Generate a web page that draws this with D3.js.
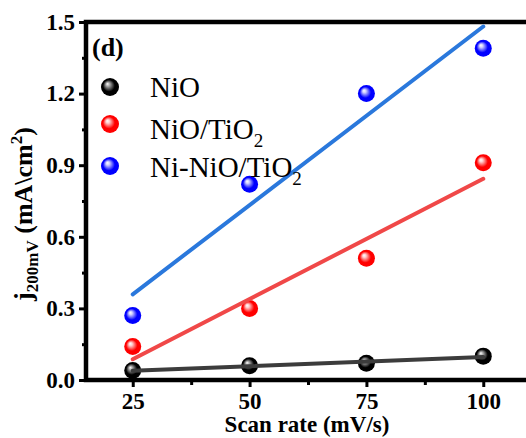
<!DOCTYPE html>
<html>
<head>
<meta charset="utf-8">
<script src="https://cdn.jsdelivr.net/npm/d3@7"></script>
<style>
  html, body { margin: 0; padding: 0; background: #fff; }
  svg { display: block; }
</style>
</head>
<body>
<svg id="chart" width="526" height="438"></svg>
<script>
// Scan rate (mV/s) and current density at 200 mV (mA/cm2)
const scanRates = [25, 50, 75, 100];
const nioValues = [0.04, 0.06, 0.07, 0.10];
const nioTiO2Values = [0.14, 0.30, 0.51, 0.91];
const niNioTiO2Values = [0.27, 0.82, 1.20, 1.39];
const xTicks = [25, 50, 75, 100];
const yTicks = [0.0, 0.3, 0.6, 0.9, 1.2, 1.5];

const seriesNames = ["NiO", "NiO/TiO2", "Ni-NiO/TiO2"];
const seriesValues = [nioValues, nioTiO2Values, niNioTiO2Values];
const markerColors = ["#000000", "#ff0000", "#0000ff"];
const highlightColors = ["#b0b0b0", "#ffd0d0", "#d0d0ff"];
const lineColors = ["#3c3c3c", "#f04848", "#2a78dc"];

const svg = d3.select("#chart");
const mLeft = 86, mTop = 22, mBottom = 380, mRight = 530;

const x = d3.scaleLinear().domain([15, 110]).range([mLeft, mRight]);
const y = d3.scaleLinear().domain([0, 1.5]).range([mBottom, mTop]);

// shaded sphere gradients
const defs = svg.append("defs");
markerColors.forEach((c, i) => {
  const g = defs.append("radialGradient")
    .attr("id", "sphere" + i)
    .attr("cx", "50%").attr("cy", "50%").attr("r", "55%")
    .attr("fx", "35%").attr("fy", "32%");
  g.append("stop").attr("offset", "0%").attr("stop-color", "#ffffff");
  g.append("stop").attr("offset", "18%").attr("stop-color", highlightColors[i]);
  g.append("stop").attr("offset", "60%").attr("stop-color", c);
  g.append("stop").attr("offset", "100%").attr("stop-color", c);
});

const serif = "'Liberation Serif', 'Times New Roman', serif";

// axes
const xAxis = d3.axisBottom(x).tickValues(xTicks).tickSize(7).tickPadding(6);
const xMinor = d3.axisBottom(x).tickValues([37.5, 62.5, 87.5]).tickSize(5).tickFormat("");
const yAxis = d3.axisLeft(y).tickValues(yTicks).tickSize(7).tickPadding(4).tickFormat(d3.format(".1f"));
const yMinor = d3.axisLeft(y).tickValues([0.15, 0.45, 0.75, 1.05, 1.35]).tickSize(4).tickFormat("");

function styleAxis(g) {
  g.select(".domain").remove();
  g.selectAll(".tick line").attr("stroke", "#000").attr("stroke-width", 3);
  g.selectAll(".tick text")
    .attr("fill", "#000")
    .style("font-family", serif)
    .style("font-weight", "bold")
    .style("font-size", "23px");
}

svg.append("g").attr("transform", `translate(0,${mBottom})`).call(xAxis).call(styleAxis);
svg.append("g").attr("transform", `translate(0,${mBottom})`).call(xMinor).call(styleAxis);
svg.append("g").attr("transform", `translate(${mLeft},0)`).call(yAxis).call(styleAxis);
svg.append("g").attr("transform", `translate(${mLeft},0)`).call(yMinor).call(styleAxis);

// frame
svg.append("path")
  .attr("d", `M${mRight},${mTop}H${mLeft}V${mBottom}H${mRight}`)
  .attr("fill", "none").attr("stroke", "#000").attr("stroke-width", 4.5);

// axis titles
svg.append("text")
  .attr("x", 307).attr("y", 432)
  .attr("text-anchor", "middle")
  .style("font-family", serif).style("font-weight", "bold").style("font-size", "23px")
  .text("Scan rate (mV/s)");

const yl = svg.append("text")
  .attr("transform", "translate(32,214) rotate(-90)")
  .attr("text-anchor", "middle")
  .style("font-family", serif).style("font-weight", "bold").style("font-size", "26px");
yl.append("tspan").text("j");
yl.append("tspan").attr("dy", 6).style("font-size", "17px").text("200mV");
yl.append("tspan").attr("dy", -6).text(" (mA\\cm");
yl.append("tspan").attr("dy", -10).style("font-size", "17px").text("2");
yl.append("tspan").attr("dy", 10).text(")");

// panel label
svg.append("text")
  .attr("x", 92).attr("y", 56)
  .style("font-family", serif).style("font-weight", "bold").style("font-size", "26px")
  .text("(d)");

// markers
seriesValues.forEach((vals, i) => {
  svg.append("g").selectAll("circle")
    .data(scanRates.map((s, k) => [s, vals[k]]))
    .join("circle")
    .attr("cx", d => x(d[0])).attr("cy", d => y(d[1]))
    .attr("r", 8.5)
    .attr("fill", `url(#sphere${i})`);
});

// least-squares fit lines
seriesValues.forEach((vals, i) => {
  const mx = d3.mean(scanRates), my = d3.mean(vals);
  const slope = d3.sum(scanRates, (s, k) => (s - mx) * (vals[k] - my)) /
                d3.sum(scanRates, s => (s - mx) * (s - mx));
  const icpt = my - slope * mx;
  const ends = [scanRates[0], scanRates[scanRates.length - 1]];
  svg.append("line")
    .attr("x1", x(ends[0])).attr("y1", y(icpt + slope * ends[0]))
    .attr("x2", x(ends[1])).attr("y2", y(icpt + slope * ends[1]))
    .attr("stroke", lineColors[i]).attr("stroke-width", 4)
    .attr("stroke-linecap", "round");
});

// legend
const legendY = [87, 124, 166];
const legendBase = [97, 139, 177];
seriesNames.forEach((name, i) => {
  svg.append("circle")
    .attr("cx", 110).attr("cy", legendY[i]).attr("r", 9)
    .attr("fill", `url(#sphere${i})`);
  const t = svg.append("text")
    .attr("x", 150).attr("y", legendBase[i])
    .style("font-family", serif).style("font-size", "29px");
  const m = name.match(/^(.*O)2$/);
  if (m) {
    t.append("tspan").text(m[1]);
    t.append("tspan").attr("dy", 8).style("font-size", "19px").text("2");
  } else {
    t.text(name);
  }
});
</script>
</body>
</html>
